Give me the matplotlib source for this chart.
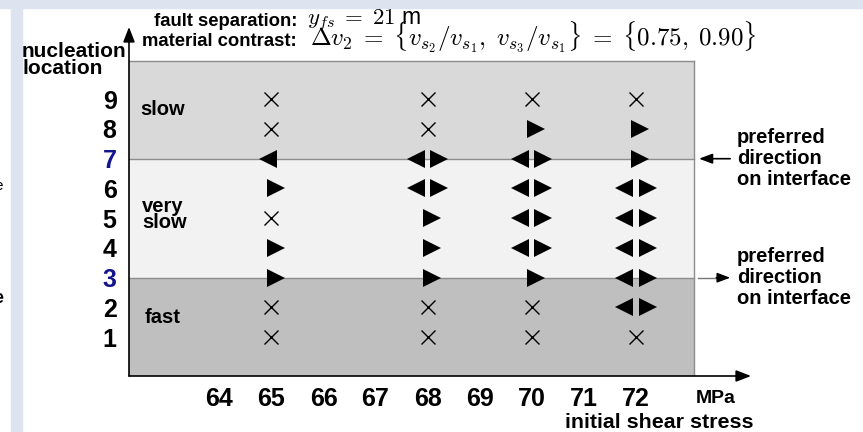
import matplotlib
matplotlib.use("Agg")
import matplotlib.pyplot as plt
from matplotlib.patches import Rectangle

plt.rcParams['font.family'] = ['Liberation Sans', 'DejaVu Sans']
plt.rcParams['mathtext.fontset'] = 'cm'

# ---- data ----
stress_ticks = [64, 65, 66, 67, 68, 69, 70, 71, 72]
location_ticks = [1, 2, 3, 4, 5, 6, 7, 8, 9]
highlight_locations = [3, 7]
stress_values = [65, 68, 70, 72]
# outcome per nucleation location 1..9: x = none, R = right, L = left, B = both
result_65 = ['x', 'x', 'R', 'R', 'x', 'R', 'L', 'x', 'x']
result_68 = ['x', 'x', 'R', 'R', 'R', 'B', 'B', 'x', 'x']
result_70 = ['x', 'x', 'R', 'B', 'B', 'B', 'B', 'R', 'x']
result_72 = ['x', 'B', 'B', 'B', 'B', 'B', 'R', 'R', 'x']
results = [result_65, result_68, result_70, result_72]
zone_names = ['fast', 'very\nslow', 'slow']
zone_bounds = [(-0.304, 3), (3, 7), (7, 10.294)]
zone_colors = ['#bfbfbf', '#f2f2f2', '#d9d9d9']

W, H = 863, 432
fig = plt.figure(figsize=(W / 100, H / 100), dpi=100)
fig.patch.set_facecolor('white')

# slide frame
fig.patches.append(Rectangle((0, 1 - 8 / H), 1, 8 / H, transform=fig.transFigure,
                             color='#dde4ef', zorder=0))
fig.patches.append(Rectangle((11 / W, 0), 11 / W, 1 - 8 / H, transform=fig.transFigure,
                             color='#dde4ef', zorder=0))
fig.text(3 / W, 1 - 190 / H, 'e', ha='right', va='baseline', fontsize=11)
fig.text(3 / W, 1 - 303 / H, 'e', ha='right', va='baseline', fontsize=13, weight='bold')

x0px, x1px, ybot, ytop = 129, 751, 376, 27
ax = fig.add_axes([x0px / W, 1 - ybot / H, (x1px - x0px) / W, (ybot - ytop) / H])
xmin, xmax = 62.26, 74.22
ymin, ymax = -0.304, 11.427
xbox = 73.12
ax.set_xlim(xmin, xmax)
ax.set_ylim(ymin, ymax)
ax.set_facecolor('none')
for s in ax.spines.values():
    s.set_visible(False)

# zones
for (a, b), c in zip(zone_bounds, zone_colors):
    ax.fill_between([xmin, xbox], a, b, color=c, lw=0, zorder=0)
for yv in [3, 7, zone_bounds[-1][1]]:
    ax.plot([xmin, xbox], [yv, yv], color='#8c8c8c', lw=1.0, zorder=1)
ax.plot([xbox, xbox], [ymin, zone_bounds[-1][1]], color='#8c8c8c', lw=1.0, zorder=1)

# zone labels
ax.text(62.47, 8.64, zone_names[2], fontsize=14.5, weight='bold', va='center', ha='left')
ax.text(62.51, 5.14, zone_names[1], fontsize=14.5, weight='bold', va='center', ha='left',
        ma='left', linespacing=0.8)
ax.text(62.57, 1.65, zone_names[0], fontsize=14.5, weight='bold', va='center', ha='left')

# markers
tri_kw = dict(ls='none', color='black', markersize=13.5, mew=0, zorder=3)
for xs, col in zip(stress_values, results):
    for loc, r in zip(location_ticks, col):
        if r == 'x':
            ax.plot(xs, loc, marker='x', ls='none', color='black', markersize=10.5,
                    mew=1.0, zorder=3)
        elif r == 'R':
            ax.plot(xs + 0.08, loc, marker='>', **tri_kw)
        elif r == 'L':
            ax.plot(xs - 0.07, loc, marker='<', **tri_kw)
        else:
            ax.plot(xs - 0.23, loc, marker='<', **tri_kw)
            ax.plot(xs + 0.23, loc, marker='>', **tri_kw)

# axes arrows
ax.annotate('', xy=(xmax, ymin), xytext=(xmin, ymin), xycoords='data',
            arrowprops=dict(arrowstyle='-|>,head_length=0.9,head_width=0.35', color='black',
                            lw=1.2, shrinkA=0, shrinkB=0), annotation_clip=False)
ax.annotate('', xy=(xmin, ymax), xytext=(xmin, ymin), xycoords='data',
            arrowprops=dict(arrowstyle='-|>,head_length=0.9,head_width=0.35', color='black',
                            lw=1.2, shrinkA=0, shrinkB=0), annotation_clip=False)

# ticks
ax.set_xticks(stress_ticks)
ax.set_xticklabels([str(v) for v in stress_ticks], fontsize=18, weight='bold')
ax.set_yticks(location_ticks)
ax.set_yticklabels([str(v) for v in location_ticks], fontsize=18, weight='bold')
ax.tick_params(axis='both', length=0)
ax.tick_params(axis='x', pad=8)
ax.tick_params(axis='y', pad=9)
for lbl, v in zip(ax.get_yticklabels(), location_ticks):
    if v in highlight_locations:
        lbl.set_color('#14148c')

ax.text(73.54, -1.05, 'MPa', fontsize=14, weight='bold', ha='center', va='center',
        clip_on=False)
fig.text(565 / W, 1 - 422 / H, 'initial shear stress', fontsize=15.4, weight='bold',
         ha='left', va='center')

# right annotations
ax.annotate('', xy=(73.22, 7), xytext=(73.82, 7),
            arrowprops=dict(arrowstyle='-|>,head_length=0.8,head_width=0.3', color='black',
                            lw=1.2, shrinkA=0, shrinkB=0), annotation_clip=False)
ax.plot([73.20, 73.60], [3, 3], color='#777777', lw=1.0, clip_on=False)
ax.annotate('', xy=(73.82, 3), xytext=(73.55, 3),
            arrowprops=dict(arrowstyle='-|>,head_length=0.8,head_width=0.3', color='black',
                            lw=1.0, shrinkA=0, shrinkB=0), annotation_clip=False)
for yv in [7, 3]:
    ax.text(73.95, yv, 'preferred\ndirection\non interface', fontsize=14.5, weight='bold',
            ha='left', va='center', linespacing=1.12, clip_on=False)

# header texts
fig.text(22 / W, 1 - 42 / H, 'nucleation\nlocation', fontsize=15, weight='bold',
         ha='left', va='top', linespacing=0.9)
fig.text(297 / W, 1 - 26 / H, 'fault separation:', fontsize=13.3, weight='bold',
         ha='right', va='baseline')
fig.text(297 / W, 1 - 46 / H, 'material contrast:', fontsize=13.3, weight='bold',
         ha='right', va='baseline')
fig.text(307 / W, 1 - 25 / H, r'$y_{fs}\;=\;\mathsf{21}$ m', fontsize=16.5,
         ha='left', va='baseline')
fig.text(310 / W, 1 - 46 / H,
         r'$\Delta v_2\;=\;\{v_{s_2}/v_{s_1},\;v_{s_3}/v_{s_1}\}\;=\;\{\mathsf{0.75},\;\mathsf{0.90}\}$',
         fontsize=18, ha='left', va='baseline')

fig.savefig('out.png', dpi=100)
